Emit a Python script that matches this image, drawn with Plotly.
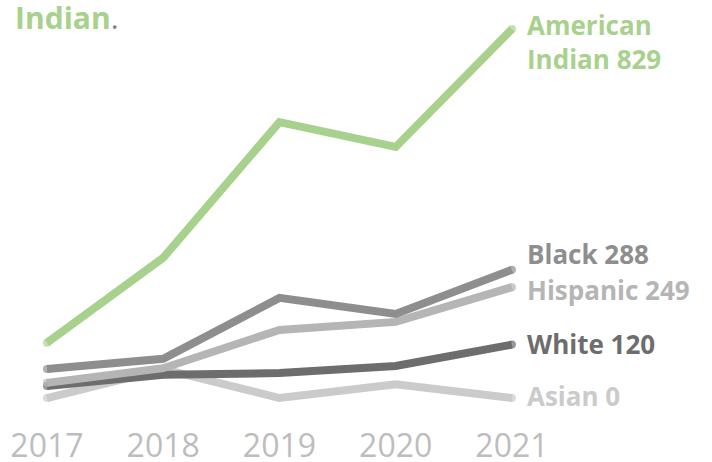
import plotly.graph_objects as go

years = [2017, 2018, 2019, 2020, 2021]
american_indian = [124, 315, 620, 564, 829]
black = [65, 88, 225, 189, 288]
hispanic = [34, 67, 153, 171, 249]
white = [27, 52, 56, 72, 120]
asian = [0, 65, 0, 31, 0]

series = [
    ("Asian", asian, "#cbcbcb"),
    ("White", white, "#6d6d6d"),
    ("Hispanic", hispanic, "#b5b5b5"),
    ("Black", black, "#8e8e8e"),
    ("American Indian", american_indian, "#a9d18e"),
]
label_text = {
    "American Indian": "American<br>Indian 829",
    "Black": "Black 288",
    "Hispanic": "Hispanic 249",
    "White": "White 120",
    "Asian": "Asian 0",
}
label_shift = {"American Indian": -13, "Black": 16, "Hispanic": -3, "White": 1, "Asian": 2}

fig = go.Figure()
for name, vals, color in series:
    fig.add_trace(go.Scatter(
        x=years, y=vals, mode="lines+markers", name=name,
        line=dict(color=color, width=8),
        marker=dict(color=color, size=[8, 0, 0, 0, 8], line=dict(width=0)),
        hoverinfo="skip",
    ))
    fig.add_annotation(
        x=years[-1], y=vals[-1], text="<b>" + label_text[name] + "</b>",
        xanchor="left", yanchor="middle", xshift=13, yshift=label_shift[name],
        showarrow=False, align="left",
        font=dict(family="Open Sans", size=26, color=color),
    )

fig.add_annotation(
    xref="paper", yref="paper", x=0.018, y=1.0, xanchor="left", yanchor="top",
    yshift=5, showarrow=False,
    text="<b><span style='color:#a9d18e'>Indian</span></b><span style='color:#808080'>.</span>",
    font=dict(family="Open Sans", size=30, color="#a9d18e"),
)

fig.update_layout(
    width=712, height=462,
    margin=dict(l=0, r=0, t=0, b=38, autoexpand=False),
    plot_bgcolor="white", paper_bgcolor="white",
    showlegend=False,
    xaxis=dict(range=[2016.596, 2022.721], tickvals=years, ticktext=[str(y) for y in years],
               showgrid=False, zeroline=False, showline=False, ticks="",
               tickfont=dict(family="Open Sans", size=32, color="#bdbdbd")),
    yaxis=dict(range=[-58.4, 894.2], showgrid=False, zeroline=False, showline=False,
               showticklabels=False, ticks=""),
)

fig.write_html("out.html", config={"displayModeBar": False},
               post_script="document.body.style.margin='0';")
